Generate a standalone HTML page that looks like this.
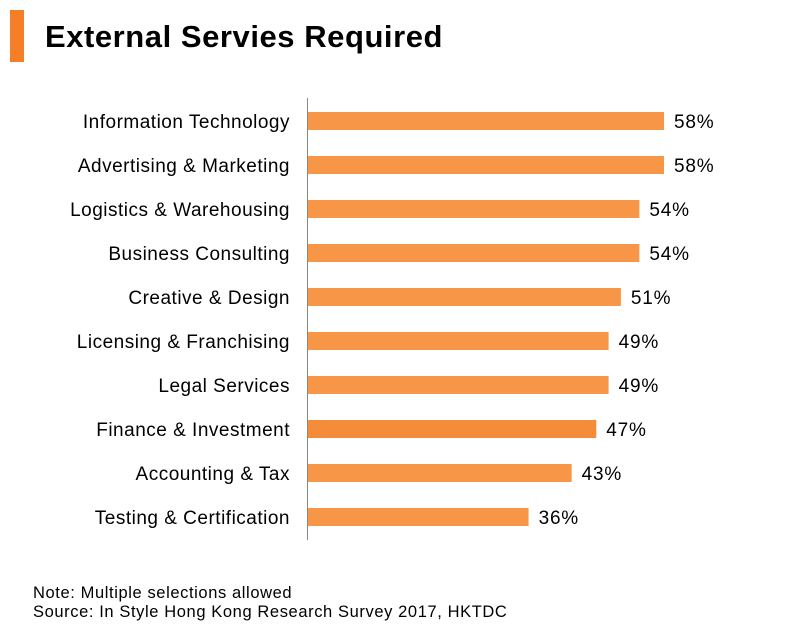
<!DOCTYPE html>
<html><head><meta charset="utf-8"><style>
body{margin:0;background:#fff;width:787px;height:630px;overflow:hidden;font-family:"Liberation Sans",Arial,sans-serif}
</style></head><body>
<svg width="787" height="630" xmlns="http://www.w3.org/2000/svg">
<rect x="10" y="10" width="14" height="52" fill="#F57F29"/>
<text x="45" y="47" font-size="31" font-weight="bold" letter-spacing="0.55" fill="#000">External Servies Required</text>
<line x1="307.5" y1="98" x2="307.5" y2="540" stroke="#888" stroke-width="1"/>
<g id="bars"></g>
<text x="33" y="598" font-size="16.5" letter-spacing="0.6" fill="#000">Note: Multiple selections allowed</text>
<text x="33" y="617" font-size="16.5" letter-spacing="0.6" fill="#000">Source: In Style Hong Kong Research Survey 2017, HKTDC</text>
</svg>
<script>
const categories=["Information Technology","Advertising & Marketing","Logistics & Warehousing","Business Consulting","Creative & Design","Licensing & Franchising","Legal Services","Finance & Investment","Accounting & Tax","Testing & Certification"];
const values=[58,58,54,54,51,49,49,47,43,36];
const valueLabels=["58%","58%","54%","54%","51%","49%","49%","47%","43%","36%"];
const ns="http://www.w3.org/2000/svg";
const g=document.getElementById('bars');
function xScale(v){return 307+v*(357/58);}
function yScale(i){return 121+i*44;}
categories.forEach((c,i)=>{
  const y=yScale(i);
  const r=document.createElementNS(ns,'rect');
  r.setAttribute('x',308);r.setAttribute('y',y-9);
  r.setAttribute('width',xScale(values[i])-308);r.setAttribute('height',18);
  r.setAttribute('fill',i===7?'#F58C3A':'#F79646');
  
  
  g.appendChild(r);
  const t=document.createElementNS(ns,'text');
  t.setAttribute('x',290);t.setAttribute('y',y+7);t.setAttribute('text-anchor','end');
  t.setAttribute('font-size','19');t.setAttribute('letter-spacing','0.5');t.textContent=c;
  
  
  g.appendChild(t);
  const v=document.createElementNS(ns,'text');
  v.setAttribute('x',xScale(values[i])+10);v.setAttribute('y',y+7);
  v.setAttribute('font-size','19');v.setAttribute('letter-spacing','0.8');v.textContent=valueLabels[i];
  
  
  g.appendChild(v);
});
</script>
</body></html>
